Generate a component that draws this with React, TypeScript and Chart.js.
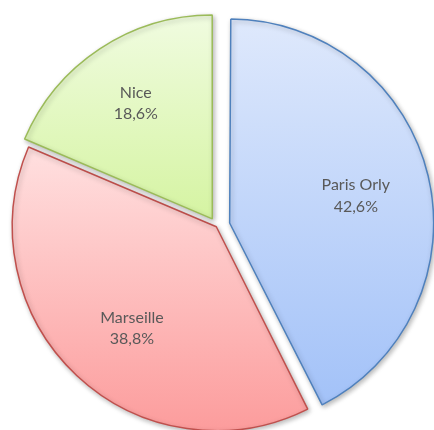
import React, { useEffect, useRef } from "react";
import { Chart, registerables } from "chart.js";

Chart.register(...registerables);

const labels = ["Paris Orly", "Marseille", "Nice"];
const shares = [42.6, 38.8, 18.6];
const shareLabels = ["42,6%", "38,8%", "18,6%"];
const explode = [52, 4, 34];
const borderColors = ["#4f81bd", "#c0504d", "#9bbb59"];
const gradTop = ["#dfe9fc", "#ffe0e0", "#f1fce2"];
const gradBottom = ["#a3c2f8", "#fc9c9c", "#d6f4a4"];
const labelDist = [0.633, 0.646, 0.68];
const labelTurn = [1, -3.4, 0];
const RADIUS = 204;

function sliceGeom(chart: any, i: number) {
  const area = chart.chartArea;
  const cx = (area.left + area.right) / 2;
  const cy = (area.top + area.bottom) / 2;
  const total = shares.reduce((a, b) => a + b, 0);
  let acc = 0;
  for (let k = 0; k < i; k++) acc += shares[k];
  const a0 = -Math.PI / 2 + (acc / total) * 2 * Math.PI;
  const a1 = a0 + (shares[i] / total) * 2 * Math.PI;
  const mid = (a0 + a1) / 2;
  const off = explode[i] / 4;
  return { ox: cx + Math.cos(mid) * off, oy: cy + Math.sin(mid) * off, a0, a1, mid };
}

function sliceGradient(c: any) {
  const i = c.dataIndex;
  const chart = c.chart;
  if (!chart.chartArea || i === undefined) return gradBottom[i ?? 0];
  const { oy, a0, a1 } = sliceGeom(chart, i);
  let minY = oy;
  let maxY = oy;
  for (let s = 0; s <= 80; s++) {
    const a = a0 + ((a1 - a0) * s) / 80;
    const y = oy + Math.sin(a) * RADIUS;
    minY = Math.min(minY, y);
    maxY = Math.max(maxY, y);
  }
  const g = chart.ctx.createLinearGradient(0, minY, 0, maxY);
  g.addColorStop(0, gradTop[i]);
  g.addColorStop(1, gradBottom[i]);
  return g;
}

const radiusFix = {
  id: "radiusFix",
  afterDatasetUpdate(chart: any, args: any) {
    const meta = chart.getDatasetMeta(args.index);
    meta.data.forEach((arc: any, i: number) => {
      const off = explode[i] / 4;
      const fix = 1 - Math.sin(Math.min(Math.PI, arc.circumference || 0));
      arc.outerRadius = RADIUS - off * fix;
    });
  },
};

const shadowAndLabels = {
  id: "shadowAndLabels",
  beforeDatasetsDraw(chart: any) {
    const ctx = chart.ctx;
    ctx.save();
    ctx.shadowColor = "rgba(0,0,0,0.28)";
    ctx.shadowBlur = 5;
    ctx.shadowOffsetX = 1.5;
    ctx.shadowOffsetY = 2;
  },
  afterDatasetsDraw(chart: any) {
    const ctx = chart.ctx;
    ctx.restore();
    ctx.save();
    ctx.fillStyle = "#595959";
    ctx.font = "16px Lato, 'Open Sans', sans-serif";
    ctx.textAlign = "center";
    ctx.textBaseline = "middle";
    labels.forEach((lab, i) => {
      const { ox, oy, mid } = sliceGeom(chart, i);
      const d = RADIUS * labelDist[i];
      const ang = mid + (labelTurn[i] * Math.PI) / 180;
      const x = ox + Math.cos(ang) * d;
      const y = oy + Math.sin(ang) * d;
      ctx.fillText(lab, x, y - 10.5);
      ctx.fillText(shareLabels[i], x, y + 11);
    });
    ctx.restore();
  },
};

export default function App() {
  const ref = useRef<HTMLCanvasElement | null>(null);
  useEffect(() => {
    if (!ref.current) return;
    const chart = new Chart(ref.current, {
      type: "pie",
      data: {
        labels,
        datasets: [
          {
            data: shares,
            backgroundColor: sliceGradient as any,
            borderColor: borderColors,
            borderWidth: 1.5,
            offset: explode,
          },
        ],
      },
      options: {
        animation: false,
        responsive: true,
        maintainAspectRatio: false,
        events: [],
        radius: RADIUS,
        layout: { padding: 0 },
        plugins: {
          legend: { display: false },
          tooltip: { enabled: false },
        },
      } as any,
      plugins: [radiusFix, shadowAndLabels],
    });
    return () => chart.destroy();
  }, []);
  return (
    <div style={{ position: "fixed", left: 0, top: 0, width: 434, height: 452, background: "#fff" }}>
      <canvas ref={ref} />
    </div>
  );
}
